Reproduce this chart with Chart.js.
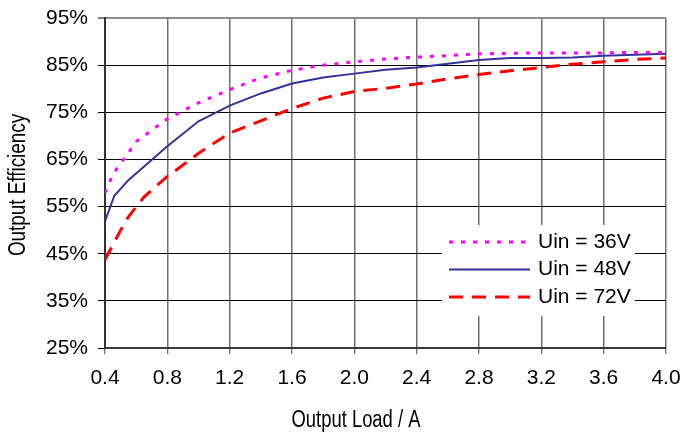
<!DOCTYPE html>
<html>
<head>
<meta charset="utf-8">
<title>Output Efficiency vs Output Load</title>
<script src="https://cdn.jsdelivr.net/npm/chart.js@4/dist/chart.umd.min.js"></script>
<style>
  html, body { margin: 0; padding: 0; background: #ffffff; }
  #wrap { width: 680px; height: 437px; }
</style>
</head>
<body>
<div id="wrap"><canvas id="eff" width="680" height="437"></canvas></div>
<script>
// Efficiency curves for the three input voltages (load in A, efficiency in %)
const loads36 = [0.4, 0.45, 0.55, 0.6, 0.8, 1.0, 1.2, 1.4, 1.6, 1.8, 2.0, 2.2, 2.4, 2.6, 2.8, 3.0, 3.2, 3.4, 3.6, 3.8, 4.0];
const eff36   = [57.9, 61.8, 66.4, 68.8, 73.6, 77.0, 79.8, 82.3, 83.9, 85.0, 85.7, 86.3, 86.7, 87.0, 87.4, 87.5, 87.6, 87.6, 87.6, 87.7, 87.7];

const loads48 = [0.4, 0.46, 0.55, 0.8, 1.0, 1.2, 1.4, 1.6, 1.8, 2.0, 2.2, 2.4, 2.6, 2.8, 3.0, 3.2, 3.4, 3.6, 3.8, 4.0];
const eff48   = [51.9, 57.3, 60.6, 67.8, 73.1, 76.4, 79.0, 81.1, 82.4, 83.2, 84.0, 84.5, 85.3, 86.1, 86.5, 86.5, 86.6, 87.0, 87.2, 87.4];

const loads72 = [0.4, 0.5, 0.55, 0.65, 0.8, 0.9, 1.0, 1.2, 1.4, 1.6, 1.8, 2.0, 2.2, 2.4, 2.6, 2.8, 3.0, 3.2, 3.4, 3.6, 3.8, 4.0];
const eff72   = [43.7, 50.0, 52.8, 57.0, 61.4, 63.8, 66.3, 70.6, 73.2, 75.8, 78.0, 79.4, 80.1, 81.0, 82.1, 83.0, 83.8, 84.5, 85.2, 85.7, 86.2, 86.5];

const seriesLabels = ['Uin = 36V', 'Uin = 48V', 'Uin = 72V'];

// Axis ticks and titles
const xTicks = [0.4, 0.8, 1.2, 1.6, 2.0, 2.4, 2.8, 3.2, 3.6, 4.0];
const yTicks = [25, 35, 45, 55, 65, 75, 85, 95];
const xTitle = 'Output Load / A';
const yTitle = 'Output Efficiency';

const toPoints = (xs, ys) => xs.map((x, i) => ({ x: x, y: ys[i] }));

const tickFont = { family: "'Liberation Sans', Arial, sans-serif", size: 21 };
const titleFont = "23px 'Liberation Sans', Arial, sans-serif";

// Legend drawn inside the plot, on a white panel that hides the grid behind it
const innerLegend = {
  id: 'innerLegend',
  afterDatasetsDraw(chart) {
    const { ctx, chartArea } = chart;
    const boxLeft = chartArea.right - 224;
    const boxTop = chartArea.top + 207;
    ctx.save();
    ctx.fillStyle = '#ffffff';
    ctx.fillRect(boxLeft, boxTop, 193, 91);
    chart.data.datasets.forEach((ds, i) => {
      const y = boxTop + 17 + i * 27.5;
      ctx.beginPath();
      ctx.strokeStyle = ds.borderColor;
      ctx.lineWidth = ds.borderWidth;
      ctx.setLineDash(ds.borderDash || []);
      ctx.moveTo(boxLeft + 7, y);
      ctx.lineTo(boxLeft + 88, y);
      ctx.stroke();
      ctx.setLineDash([]);
      ctx.fillStyle = '#000000';
      ctx.font = tickFont.size + 'px ' + tickFont.family;
      ctx.textAlign = 'left';
      ctx.textBaseline = 'middle';
      ctx.fillText(ds.label, boxLeft + 96, y);
    });
    ctx.restore();
  }
};

// Axis captions, set in a condensed face (horizontally squeezed)
const axisCaptions = {
  id: 'axisCaptions',
  afterDraw(chart) {
    const { ctx, chartArea } = chart;
    ctx.save();
    ctx.fillStyle = '#000000';
    ctx.font = titleFont;
    ctx.textAlign = 'center';
    ctx.textBaseline = 'middle';
    // load axis caption
    ctx.save();
    ctx.translate(356, 421);
    ctx.scale(0.8, 1);
    ctx.fillText(xTitle, 0, 0);
    ctx.restore();
    // efficiency axis caption
    ctx.save();
    ctx.translate(19, (chartArea.top + chartArea.bottom) / 2 + 2);
    ctx.rotate(-Math.PI / 2);
    ctx.scale(0.82, 1);
    ctx.fillText(yTitle, 0, 0);
    ctx.restore();
    ctx.restore();
  }
};

new Chart(document.getElementById('eff'), {
  type: 'line',
  data: {
    datasets: [
      {
        label: seriesLabels[0],
        data: toPoints(loads36, eff36),
        borderColor: '#ff00ff',
        borderWidth: 3,
        borderDash: [4, 8],
        pointRadius: 0,
        fill: false,
        tension: 0
      },
      {
        label: seriesLabels[1],
        data: toPoints(loads48, eff48),
        borderColor: '#333399',
        borderWidth: 2,
        pointRadius: 0,
        fill: false,
        tension: 0
      },
      {
        label: seriesLabels[2],
        data: toPoints(loads72, eff72),
        borderColor: '#ff0000',
        borderWidth: 3,
        borderDash: [14, 9],
        pointRadius: 0,
        fill: false,
        tension: 0
      }
    ]
  },
  options: {
    responsive: false,
    animation: false,
    events: [],
    layout: { padding: { left: 0, top: 18, right: 0, bottom: 0 } },
    plugins: {
      legend: { display: false },
      tooltip: { enabled: false },
      title: { display: false }
    },
    scales: {
      x: {
        type: 'linear',
        min: 0.4,
        max: 4.0,
        afterBuildTicks: (scale) => { scale.ticks = xTicks.map(v => ({ value: v })); },
        afterFit: (scale) => {
          scale.height = 89;
          scale.paddingLeft = 0;
          scale.paddingRight = 14;
        },
        ticks: {
          font: tickFont,
          color: '#000000',
          padding: 12,
          maxRotation: 0,
          autoSkip: false,
          callback: (v) => Number(v).toFixed(1)
        },
        grid: {
          color: '#6f6f6f',
          lineWidth: 1.5,
          tickLength: 6,
          tickColor: '#444444',
          tickWidth: 1
        },
        border: { display: true, color: '#3a3a3a', width: 2 },
        title: { display: false }
      },
      y: {
        type: 'linear',
        min: 25,
        max: 95,
        afterBuildTicks: (scale) => { scale.ticks = yTicks.map(v => ({ value: v })); },
        afterFit: (scale) => {
          scale.width = 105;
          scale.paddingTop = 0;
          scale.paddingBottom = 0;
        },
        ticks: {
          font: tickFont,
          color: '#000000',
          padding: 10,
          autoSkip: false,
          callback: (v) => v + '%'
        },
        grid: {
          color: (c) => (c.tick && c.tick.value === 95 ? '#8c8c8c' : '#000000'),
          lineWidth: (c) => (c.tick && c.tick.value === 95 ? 2 : 1),
          tickLength: 7,
          tickColor: '#000000',
          tickWidth: 1
        },
        border: { display: true, color: '#333333', width: 2 },
        title: { display: false }
      }
    }
  },
  plugins: [innerLegend, axisCaptions]
});
</script>
</body>
</html>
